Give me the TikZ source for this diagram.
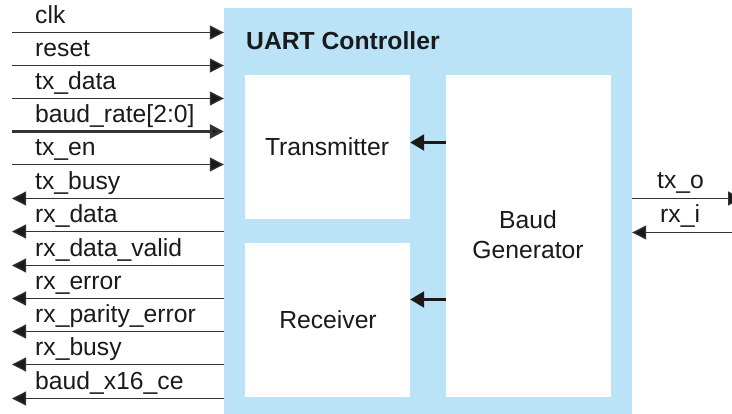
\documentclass[tikz,border=0pt]{standalone}
\usepackage{fontspec}
\setmainfont{Liberation Sans}
\usetikzlibrary{arrows.meta}
\definecolor{ctrlblue}{HTML}{BAE3F8}
\definecolor{wire}{HTML}{333333}
\definecolor{ink}{HTML}{1A1A1A}
\tikzset{
  sig/.style={font=\fontsize{24.7}{30}\selectfont, text=ink, anchor=base west, inner sep=0pt},
  blk/.style={fill=white, draw=none, inner sep=0pt},
  wireline/.style={draw=wire, line width=1.2pt},
  tipin/.style={-{Triangle[length=14pt,width=14pt,fill=ink]}, wireline},
  tipout/.style={{Triangle[length=14pt,width=14pt,fill=ink]}-, wireline},
  bus/.style={-{Triangle[length=14pt,width=14pt,fill=ink]}, draw=wire, line width=3pt},
  inner/.style={-{Triangle[length=14pt,width=16pt,fill=ink]}, draw=ink, line width=2.6pt},
}
\begin{document}
\begin{tikzpicture}[x=1pt,y=-1pt]
\useasboundingbox (0,0) rectangle (732,414);
% container and blocks
\node[fill=ctrlblue, draw=none, minimum width=408pt, minimum height=406pt, inner sep=0pt] (ctrl) at (428,211) {};
\node[blk, minimum width=165pt, minimum height=144pt] (tx) at (327.5,147) {};
\node[blk, minimum width=165pt, minimum height=154pt] (rx) at (327.5,320) {};
\node[blk, minimum width=165pt, minimum height=322pt] (bg) at (528.5,236) {};
\node[sig, font=\fontsize{24.7}{30}\selectfont\bfseries] (title) at (246,50) {UART Controller};
\node[font=\fontsize{24.7}{30}\selectfont, text=ink, inner sep=0pt] (txl) at (327,147) {Transmitter};
\node[font=\fontsize{24.7}{30}\selectfont, text=ink, inner sep=0pt] (rxl) at (328,320) {Receiver};
\node[font=\fontsize{24.7}{30}\selectfont, text=ink, inner sep=0pt, align=center] (bgl) at (528,235) {Baud\\Generator};
% internal arrows
\coordinate (bgA) at (446,142.5);
\coordinate (bgB) at (446,299.5);
\draw[inner] (bgA) -- (bgA -| tx.east);
\draw[inner] (bgB) -- (bgB -| rx.east);
% left ports
\foreach \name/\lab/\yy/\kind in {
  clk/clk/32.5/tipin, reset/reset/65.5/tipin, txdata/tx\_data/98.5/tipin,
  baud/baud\_rate[2:0]/131.5/bus, txen/tx\_en/164.5/tipin,
  txbusy/tx\_busy/198.5/tipout, rxdata/rx\_data/231.5/tipout,
  rxvalid/rx\_data\_valid/265.5/tipout, rxerr/rx\_error/298.5/tipout,
  rxpar/rx\_parity\_error/331.5/tipout, rxbusy/rx\_busy/364.5/tipout,
  x16/baud\_x16\_ce/398.5/tipout}{
  \coordinate (p\name) at (12,\yy);
  \draw[\kind] (p\name) -- (p\name -| ctrl.west);
  \node[sig] (l\name) at (35,\yy-9) {\lab};
}
% right ports
\coordinate (ptxo) at (742,198.5);
\coordinate (prxi) at (732,232.5);
\draw[tipin] (ptxo -| ctrl.east) -- (ptxo);
\draw[tipin] (prxi) -- (prxi -| ctrl.east);
\node[sig] (ltxo) at (657,189) {tx\_o};
\node[sig] (lrxi) at (660,223) {rx\_i};
\end{tikzpicture}
\end{document}
